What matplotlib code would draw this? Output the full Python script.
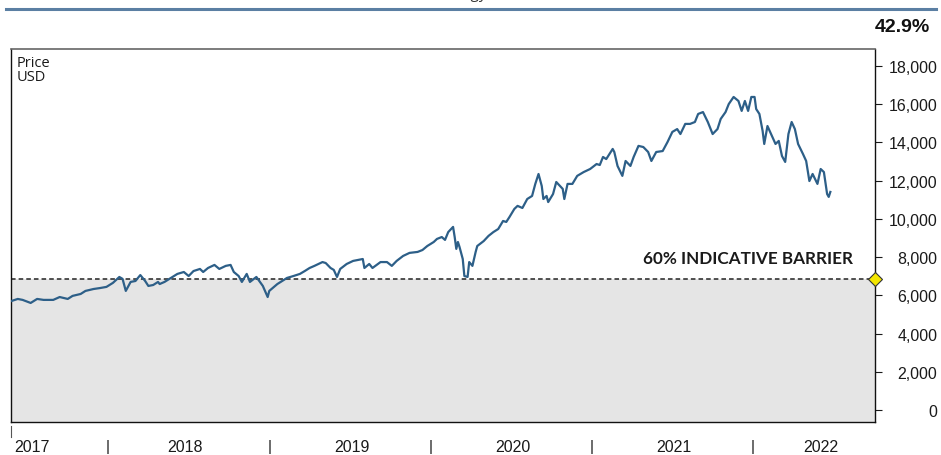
import matplotlib
matplotlib.use('Agg')
import matplotlib.pyplot as plt
from matplotlib.lines import Line2D

# Données (année décimale, prix en USD)
years = [2017.40, 2017.44, 2017.47, 2017.52, 2017.56, 2017.60, 2017.64, 2017.66, 2017.70, 2017.75,
         2017.78, 2017.83, 2017.86, 2017.91, 2017.95, 2017.99, 2018.03, 2018.07, 2018.09, 2018.11,
         2018.14, 2018.17, 2018.20, 2018.23, 2018.25, 2018.28, 2018.31, 2018.32, 2018.35, 2018.38,
         2018.43, 2018.47, 2018.50, 2018.53, 2018.57, 2018.59, 2018.62, 2018.66, 2018.69, 2018.73,
         2018.76, 2018.78, 2018.81, 2018.83, 2018.86, 2018.88, 2018.92, 2018.96, 2018.99, 2019.00,
         2019.05, 2019.08, 2019.11, 2019.15, 2019.19, 2019.22, 2019.25, 2019.28, 2019.33, 2019.35,
         2019.38, 2019.40, 2019.42, 2019.44, 2019.48, 2019.52, 2019.58, 2019.59, 2019.62, 2019.64,
         2019.69, 2019.73, 2019.76, 2019.79, 2019.83, 2019.87, 2019.92, 2019.95, 2019.98, 2020.02,
         2020.04, 2020.07, 2020.09, 2020.11, 2020.14, 2020.15, 2020.16, 2020.17, 2020.18, 2020.20,
         2020.21, 2020.23, 2020.24, 2020.26, 2020.28, 2020.29, 2020.33, 2020.36, 2020.39, 2020.42,
         2020.45, 2020.47, 2020.49, 2020.52, 2020.54, 2020.57, 2020.60, 2020.63, 2020.65, 2020.67,
         2020.69, 2020.70, 2020.72, 2020.73, 2020.76, 2020.78, 2020.82, 2020.83, 2020.85, 2020.88,
         2020.91, 2020.95, 2020.99, 2021.03, 2021.05, 2021.07, 2021.09, 2021.13, 2021.14, 2021.16,
         2021.19, 2021.21, 2021.24, 2021.26, 2021.29, 2021.32, 2021.35, 2021.37, 2021.40, 2021.44,
         2021.47, 2021.50, 2021.53, 2021.55, 2021.58, 2021.61, 2021.64, 2021.66, 2021.69, 2021.72,
         2021.75, 2021.78, 2021.80, 2021.83, 2021.85, 2021.88, 2021.91, 2021.93, 2021.95, 2021.97,
         2021.99, 2022.01, 2022.02, 2022.04, 2022.06, 2022.07, 2022.09, 2022.12, 2022.14, 2022.16,
         2022.18, 2022.20, 2022.22, 2022.24, 2022.26, 2022.28, 2022.31, 2022.33, 2022.35, 2022.37,
         2022.40, 2022.42, 2022.44, 2022.46, 2022.47, 2022.48]
prices = [5700, 5810, 5760, 5600, 5810, 5760, 5760, 5760, 5910, 5810,
          5970, 6070, 6230, 6330, 6380, 6440, 6650, 6960, 6860, 6230,
          6700, 6750, 7060, 6750, 6490, 6540, 6700, 6590, 6700, 6860,
          7120, 7220, 7010, 7270, 7380, 7220, 7430, 7590, 7380, 7540,
          7590, 7220, 7010, 6700, 7120, 6700, 6960, 6490, 5910, 6230,
          6590, 6750, 6910, 7010, 7120, 7270, 7430, 7540, 7740, 7690,
          7430, 7330, 6960, 7380, 7640, 7800, 7900, 7430, 7640, 7430,
          7740, 7740, 7540, 7800, 8060, 8220, 8270, 8370, 8580, 8790,
          8950, 9050, 8900, 9310, 9580, 9050, 8430, 8790, 8530, 7900,
          7010, 6960, 7740, 7540, 8270, 8580, 8840, 9110, 9310, 9470,
          9890, 9840, 10100, 10520, 10680, 10570, 11040, 11200, 11830, 12350,
          11720, 11040, 11200, 10880, 11300, 11930, 11570, 11040, 11830, 11830,
          12250, 12450, 12610, 12870, 12820, 13240, 13130, 13660, 13500, 12770,
          12250, 13030, 12770, 13240, 13820, 13760, 13500, 13030, 13500, 13550,
          14020, 14550, 14700, 14440, 14970, 14970, 15070, 15490, 15590, 15070,
          14440, 14700, 15230, 15590, 16010, 16380, 16170, 15650, 16170, 15650,
          16380, 16380, 15750, 15490, 14600, 13920, 14860, 14290, 13920, 14080,
          13290, 12980, 14440, 15070, 14700, 13920, 13400, 13030, 11980, 12350,
          11830, 12610, 12450, 11300, 11150, 11410]

barrier = 6860
barrier_label = "60% INDICATIVE BARRIER"
performance = "42.9%"
year_labels = ["2017", "2018", "2019", "2020", "2021", "2022"]
year_label_pos = [2017.53, 2018.48, 2019.51, 2020.51, 2021.51, 2022.42]
year_bounds = [2018, 2019, 2020, 2021, 2022]
yticks = list(range(0, 18001, 2000))

narrow = ['Liberation Sans', 'DejaVu Sans']

fig = plt.figure(figsize=(9.41, 4.56), dpi=100)
ax = fig.add_axes([11/941, 1 - 423/456, (875 - 11)/941, (423 - 50)/456])

x0, x1 = 2017.398, 2022.757
ax.set_xlim(x0, x1)
ax.set_ylim(-630, 18890)

# zone grise sous la barrière
ax.fill_between([x0, x1], -630, barrier, color='#e5e5e5', zorder=1, linewidth=0)
ax.axhline(barrier, color='#222222', linewidth=1.1, linestyle=(0, (3, 2)), zorder=2)
ax.plot([x1], [barrier], marker='D', markersize=7, markerfacecolor='#f3e600',
        markeredgecolor='#333333', markeredgewidth=0.8, clip_on=False, zorder=6)

ax.plot(years, prices, color='#2d5f88', linewidth=1.6, zorder=4)

ax.text(2022.62, barrier + 650, barrier_label, ha='right', va='bottom', fontsize=12.3,
        fontweight='bold', family='Lato', color='#1a1a1a')

ax.text(0.006, 0.985, "Price\nUSD", transform=ax.transAxes, ha='left', va='top',
        fontsize=10.5, family='Open Sans', color='#1a1a1a', linespacing=0.95)

# axe y à droite
ax.yaxis.tick_right()
ax.set_yticks(yticks)
ax.set_yticklabels([f"{v:,}" for v in yticks], family=narrow, fontsize=11.5, ha='right')
ax.tick_params(axis='y', direction='out', length=5, width=0.8, pad=40, colors='#1a1a1a')

# axe x : étiquettes d'années et séparateurs
ax.set_xticks(year_label_pos)
ax.set_xticklabels(year_labels, family=narrow, fontsize=11.5, color='#1a1a1a')
ax.tick_params(axis='x', length=0, pad=12)
for b in year_bounds:
    ax.text(b, -0.065, "|", transform=ax.get_xaxis_transform(), ha='center', va='center',
            fontsize=11, family=narrow, color='#1a1a1a')
ax.add_line(Line2D([0, 0], [-0.012, -0.04], transform=ax.transAxes, color='#555555',
                   linewidth=0.8, clip_on=False))

for side in ['left', 'right', 'bottom']:
    ax.spines[side].set_color('#111111')
    ax.spines[side].set_linewidth(1.0)
ax.spines['top'].set_color('#666666')
ax.spines['top'].set_linewidth(1.2)

# en-tête
fig.add_artist(Line2D([0.006, 0.995], [1 - 10/456, 1 - 10/456], color='#5b7fa3', linewidth=2.2))
fig.text(487/941, 1 + 2/456, "Technology", ha='right', va='baseline', fontsize=11,
         family='Open Sans', color='#333333')
fig.text(930/941, 1 - 27/456, performance, ha='right', va='center', fontsize=14,
         fontweight='bold', family=narrow, color='#111111')

fig.savefig('out.png', dpi=100)
